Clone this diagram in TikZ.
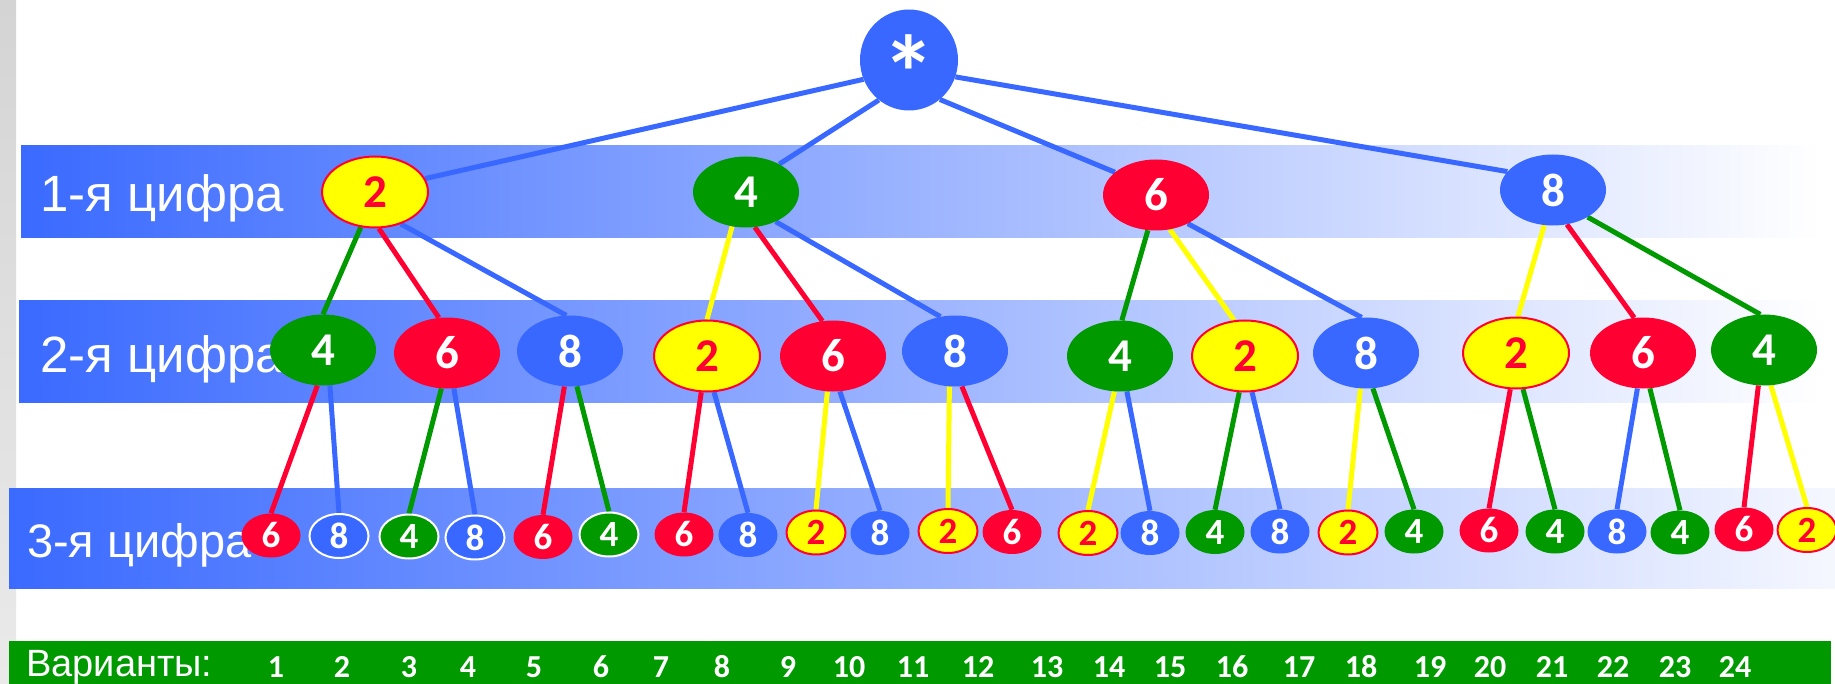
\documentclass[tikz,border=0pt]{standalone}
\usepackage{fontspec}
\setmainfont{Liberation Sans}
\newfontfamily\calb{Carlito}
\usetikzlibrary{shapes.geometric}
\definecolor{cblue}{RGB}{56,104,255}
\definecolor{cgreen}{RGB}{0,153,0}
\definecolor{cred}{RGB}{255,0,51}
\definecolor{cyellow}{RGB}{255,255,0}
\definecolor{bandblue}{RGB}{58,106,255}
\definecolor{stripA}{RGB}{212,212,212}
\definecolor{stripB}{RGB}{234,234,234}
\pgfdeclarelayer{bands}
\pgfdeclarelayer{edges}
\pgfsetlayers{bands,edges,main}
\tikzset{
  big/.style={ellipse, inner sep=0pt, minimum width=106pt, minimum height=71pt,
    font=\calb\bfseries\fontsize{47}{47}\selectfont},
  small/.style={ellipse, inner sep=0pt, minimum width=59pt, minimum height=44pt,
    font=\calb\bfseries\fontsize{37}{37}\selectfont},
  cb/.style={fill=cblue, text=white},
  cg/.style={fill=cgreen, text=white},
  cr/.style={fill=cred, text=white},
  cy/.style={fill=cyellow, text=cred, draw=cred, line width=2pt},
  cbw/.style={cb, draw=white, line width=2pt},
  cgw/.style={cg, draw=white, line width=2pt},
  edge/.style={line width=5pt},
  bandtext/.style={text=white, anchor=base west, inner sep=0pt},
  varnum/.style={text=white, anchor=base, inner sep=0pt,
    font=\calb\bfseries\fontsize{32}{32}\selectfont},
}
\begin{document}
\begin{tikzpicture}[x=1pt, y=-1pt]
\useasboundingbox (0,0) rectangle (1835,684);
\begin{pgfonlayer}{bands}
  \fill[white] (0,0) rectangle (1835,684);
  \shade[top color=stripA, bottom color=stripB] (0,0) rectangle (16,684);
  \shade[left color=bandblue, right color=white] (21,146) rectangle (1820,238);
  \shade[left color=bandblue, right color=white] (19,301) rectangle (1820,402);
  \shade[left color=bandblue, right color=white!95!bandblue] (9,488) rectangle (1835,588);
  \fill[cgreen] (9,641) rectangle (1831,684);
  \node[bandtext, font=\fontsize{51}{51}\selectfont] (t1) at (40,212) {1-я цифра};
  \node[bandtext, font=\fontsize{51}{51}\selectfont] (t2) at (40,372) {2-я цифра};
  \node[bandtext, font=\fontsize{47}{47}\selectfont] (t3) at (27,557) {3-я цифра};
  \node[bandtext, font=\fontsize{38}{38}\selectfont] (t4) at (26,676) {Варианты:};
\end{pgfonlayer}

% root
\node[ellipse, inner sep=0pt, minimum width=98pt, minimum height=101pt, fill=cblue,
  text=white, text height=0pt, text depth=0pt,
  font=\calb\bfseries\fontsize{106}{106}\selectfont] (root) at (909,60) {\raisebox{-51pt}{*}};

% level 1
\node[big,cy] (a2) at (375,192) {2};
\node[big,cg] (a4) at (746,192) {4};
\node[big,cr] (a6) at (1156,195) {6};
\node[big,cb] (a8) at (1553,190) {8};

% level 2
\node[big,cg] (b1) at (323,350) {4};
\node[big,cr] (b2) at (447,353) {6};
\node[big,cb] (b3) at (570,351) {8};
\node[big,cy] (b4) at (707,356) {2};
\node[big,cr] (b5) at (833,356) {6};
\node[big,cb] (b6) at (955,351) {8};
\node[big,cg] (b7) at (1120,356) {4};
\node[big,cy] (b8) at (1245,356) {2};
\node[big,cb] (b9) at (1366,353) {8};
\node[big,cy] (b10) at (1516,353) {2};
\node[big,cr] (b11) at (1643,353) {6};
\node[big,cg] (b12) at (1764,350) {4};

% level 3
\node[small,cr]  (c1) at (271,535.5) {6};
\node[small,cbw] (c2) at (339,536) {8};
\node[small,cgw] (c3) at (409,536.5) {4};
\node[small,cbw] (c4) at (475,537.5) {8};
\node[small,cr]  (c5) at (543,537) {6};
\node[small,cgw] (c6) at (609,534.5) {4};
\node[small,cr]  (c7) at (684,534.5) {6};
\node[small,cb]  (c8) at (748,535) {8};
\node[small,cy]  (c9) at (816,532.5) {2};
\node[small,cb]  (c10) at (880,533) {8};
\node[small,cy]  (c11) at (948,531) {2};
\node[small,cr]  (c12) at (1012,532) {6};
\node[small,cy]  (c13) at (1088,533) {2};
\node[small,cb]  (c14) at (1150,533) {8};
\node[small,cg]  (c15) at (1215,532) {4};
\node[small,cb]  (c16) at (1280,531.5) {8};
\node[small,cy]  (c17) at (1348,532.5) {2};
\node[small,cg]  (c18) at (1414,531.5) {4};
\node[small,cr]  (c19) at (1489,530.5) {6};
\node[small,cg]  (c20) at (1555,531.5) {4};
\node[small,cb]  (c21) at (1617,531.5) {8};
\node[small,cg]  (c22) at (1680,532.5) {4};
\node[small,cr]  (c23) at (1744,529.5) {6};
\node[small,cy]  (c24) at (1807,530) {2};

% variant numbers
\node[varnum] (v1) at (276,677) {1};
\node[varnum] (v2) at (342,677) {2};
\node[varnum] (v3) at (409,677) {3};
\node[varnum] (v4) at (468,677) {4};
\node[varnum] (v5) at (534,677) {5};
\node[varnum] (v6) at (601,677) {6};
\node[varnum] (v7) at (661,677) {7};
\node[varnum] (v8) at (722,677) {8};
\node[varnum] (v9) at (788,677) {9};
\node[varnum] (v10) at (849,677) {10};
\node[varnum] (v11) at (913,677) {11};
\node[varnum] (v12) at (978,677) {12};
\node[varnum] (v13) at (1047,677) {13};
\node[varnum] (v14) at (1109,677) {14};
\node[varnum] (v15) at (1170,677) {15};
\node[varnum] (v16) at (1232,677) {16};
\node[varnum] (v17) at (1299,677) {17};
\node[varnum] (v18) at (1361,677) {18};
\node[varnum] (v19) at (1430,677) {19};
\node[varnum] (v20) at (1490,677) {20};
\node[varnum] (v21) at (1552,677) {21};
\node[varnum] (v22) at (1613,677) {22};
\node[varnum] (v23) at (1675,677) {23};
\node[varnum] (v24) at (1735,677) {24};

\begin{pgfonlayer}{edges}
  % root to level 1
  \draw[edge, cblue] (root.203) -- (a2.15);
  \draw[edge, cblue] (root.233) -- (a4.40);
  \draw[edge, cblue] (root.308) -- (a6.151);
  \draw[edge, cblue] (root.340) -- (a8.158);
  % level 1 to level 2
  \draw[edge, cgreen]  (a2.248) -- (b1.90);
  \draw[edge, cred]    (a2.276) -- (b2.103);
  \draw[edge, cblue]   (a2.309) -- (b3.96);
  \draw[edge, cyellow] (a4.248) -- (b4.90);
  \draw[edge, cred]    (a4.284) -- (b5.107);
  \draw[edge, cblue]   (a4.315) -- (b6.113);
  \draw[edge, cgreen]  (a6.257) -- (b7.87);
  \draw[edge, cyellow] (a6.292) -- (b8.107);
  \draw[edge, cblue]   (a6.318) -- (b9.97);
  \draw[edge, cyellow] (a8.256) -- (b10.87);
  \draw[edge, cred]    (a8.292) -- (b11.104);
  \draw[edge, cgreen]  (a8.322) -- (b12.96);
  % level 2 to level 3
  \draw[edge, cred]    (b1.261) -- (c1.north);
  \draw[edge, cblue]   (b1.281) -- (c2.north);
  \draw[edge, cgreen]  (b2.261) -- (c3.north);
  \draw[edge, cblue]   (b2.281) -- (c4.north);
  \draw[edge, cred]    (b3.261) -- (c5.north);
  \draw[edge, cgreen]  (b3.281) -- (c6.north);
  \draw[edge, cred]    (b4.261) -- (c7.north);
  \draw[edge, cblue]   (b4.281) -- (c8.north);
  \draw[edge, cyellow] (b5.261) -- (c9.north);
  \draw[edge, cblue]   (b5.281) -- (c10.north);
  \draw[edge, cyellow] (b6.261) -- (c11.north);
  \draw[edge, cred]    (b6.281) -- (c12.north);
  \draw[edge, cyellow] (b7.261) -- (c13.north);
  \draw[edge, cblue]   (b7.281) -- (c14.north);
  \draw[edge, cgreen]  (b8.261) -- (c15.north);
  \draw[edge, cblue]   (b8.281) -- (c16.north);
  \draw[edge, cyellow] (b9.261) -- (c17.north);
  \draw[edge, cgreen]  (b9.281) -- (c18.north);
  \draw[edge, cred]    (b10.261) -- (c19.north);
  \draw[edge, cgreen]  (b10.281) -- (c20.north);
  \draw[edge, cblue]   (b11.261) -- (c21.north);
  \draw[edge, cgreen]  (b11.281) -- (c22.north);
  \draw[edge, cred]    (b12.261) -- (c23.north);
  \draw[edge, cyellow] (b12.281) -- (c24.north);
\end{pgfonlayer}
\end{tikzpicture}
\end{document}
